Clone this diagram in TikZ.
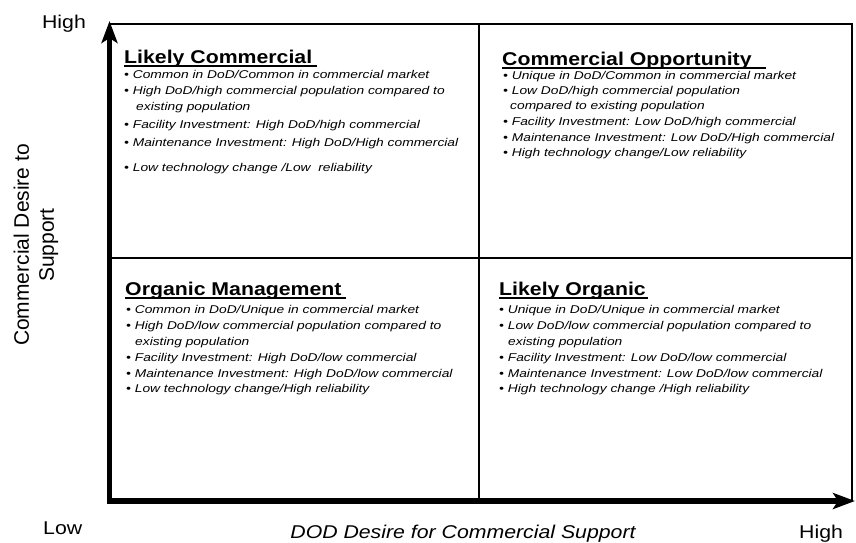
\documentclass[tikz,border=0pt]{standalone}
\usepackage{fontspec}
\setmainfont[FakeStretch=1.15]{Liberation Sans}
\newfontfamily\bulfont[FakeStretch=1.22]{Liberation Sans}
\newfontfamily\plainfont{Liberation Sans}
\usetikzlibrary{arrows.meta}
\begin{document}
\begin{tikzpicture}[x=1pt,y=-1pt,
  txt/.style={inner sep=0pt, anchor=base west},
  ttl/.style={txt, font=\fontsize{18.5}{22}\selectfont\bfseries},
  bul/.style={txt, font=\bulfont\fontsize{11.3}{13}\selectfont\itshape},
  axlbl/.style={inner sep=0pt, font=\fontsize{18.5}{22}\selectfont},
  frame/.style={line width=2pt},
  axis/.style={line width=5.5pt, line join=miter,
    arrows={Stealth[length=22pt,width=16pt,inset=5pt]-Stealth[length=22pt,width=16pt,inset=5pt]}},
  uline/.style={line width=2pt}
]
\useasboundingbox (0,0) rectangle (856,542);

% frame coordinates
\coordinate (O) at (109.5,501);
\coordinate (ytip) at (109.5,21);
\coordinate (xtip) at (855,501);
\coordinate (TL) at (109.5,23.7);
\coordinate (TR) at (852,23.7);
\coordinate (BR) at (852,501);
\coordinate (ML) at (109.5,258);
\coordinate (MR) at (852,258);
\coordinate (MT) at (478.5,23.7);
\coordinate (MB) at (478.5,501);

\draw[frame] (TL) -- (TR) -- (BR);
\draw[frame] (ML) -- (MR);
\draw[frame] (MT) -- (MB);
\draw[axis] (ytip) -- (O) -- (xtip);

% axis labels
\node[axlbl, anchor=base] (hiY) at (64,28) {High};
\node[axlbl, anchor=base west] (lo) at (43,534) {Low};
\node[axlbl, anchor=base west] (hiX) at (799,538) {High};
\node[axlbl, anchor=base, font=\fontsize{18.5}{22}\selectfont\itshape] (xl) at (463,538) {DOD Desire for Commercial Support};
\node[rotate=90, inner sep=0pt, font=\plainfont\fontsize{21}{25}\selectfont, align=center] (yl) at (36,245) {Commercial Desire to\\Support};

% top-left quadrant
\node[ttl] (lc) at (124,63) {Likely Commercial};
\draw[uline] ([yshift=-2.5pt]lc.base west) -- ([yshift=-2.5pt,xshift=5pt]lc.base east);
\node[bul] (lc1) at (124,78) {• Common in DoD/Common in commercial market};
\node[bul] (lc2) at (124,94) {• High DoD/high commercial population compared to};
\node[bul] (lc2b) at (136,110) {existing population};
\node[bul] (lc3) at (124,128) {• Facility Investment: High DoD/high commercial};
\node[bul] (lc4) at (124,146) {• Maintenance Investment: High DoD/High commercial};
\node[bul] (lc5) at (124,171) {• Low technology change /Low~ reliability};

% top-right quadrant
\node[ttl] (co) at (502,65) {Commercial Opportunity};
\draw[uline] ([yshift=-2.5pt]co.base west) -- ([yshift=-2.5pt,xshift=14pt]co.base east);
\node[bul] (co1) at (503,79) {• Unique in DoD/Common in commercial market};
\node[bul] (co2) at (503,94.5) {• Low DoD/high commercial population};
\node[bul] (co2b) at (510,109.5) {compared to existing population};
\node[bul] (co3) at (503,125) {• Facility Investment: Low DoD/high commercial};
\node[bul] (co4) at (503,141) {• Maintenance Investment: Low DoD/High commercial};
\node[bul] (co5) at (503,156) {• High technology change/Low reliability};

% bottom-left quadrant
\node[ttl] (om) at (125,295) {Organic Management};
\draw[uline] ([yshift=-2.5pt]om.base west) -- ([yshift=-2.5pt,xshift=4pt]om.base east);
\node[bul] (om1) at (126,313) {• Common in DoD/Unique in commercial market};
\node[bul] (om2) at (126,329) {• High DoD/low commercial population compared to};
\node[bul] (om2b) at (135,345) {existing population};
\node[bul] (om3) at (126,361) {• Facility Investment: High DoD/low commercial};
\node[bul] (om4) at (126,377) {• Maintenance Investment: High DoD/low commercial};
\node[bul] (om5) at (126,392) {• Low technology change/High reliability};

% bottom-right quadrant
\node[ttl] (lo2) at (499,295) {Likely Organic};
\draw[uline] ([yshift=-2.5pt]lo2.base west) -- ([yshift=-2.5pt,xshift=2pt]lo2.base east);
\node[bul] (lo1) at (499,313) {• Unique in DoD/Unique in commercial market};
\node[bul] (lo2l) at (499,329) {• Low DoD/low commercial population compared to};
\node[bul] (lo2b) at (508,345) {existing population};
\node[bul] (lo3) at (499,361) {• Facility Investment: Low DoD/low commercial};
\node[bul] (lo4) at (499,377) {• Maintenance Investment: Low DoD/low commercial};
\node[bul] (lo5) at (499,392) {• High technology change /High reliability};
\end{tikzpicture}
\end{document}
